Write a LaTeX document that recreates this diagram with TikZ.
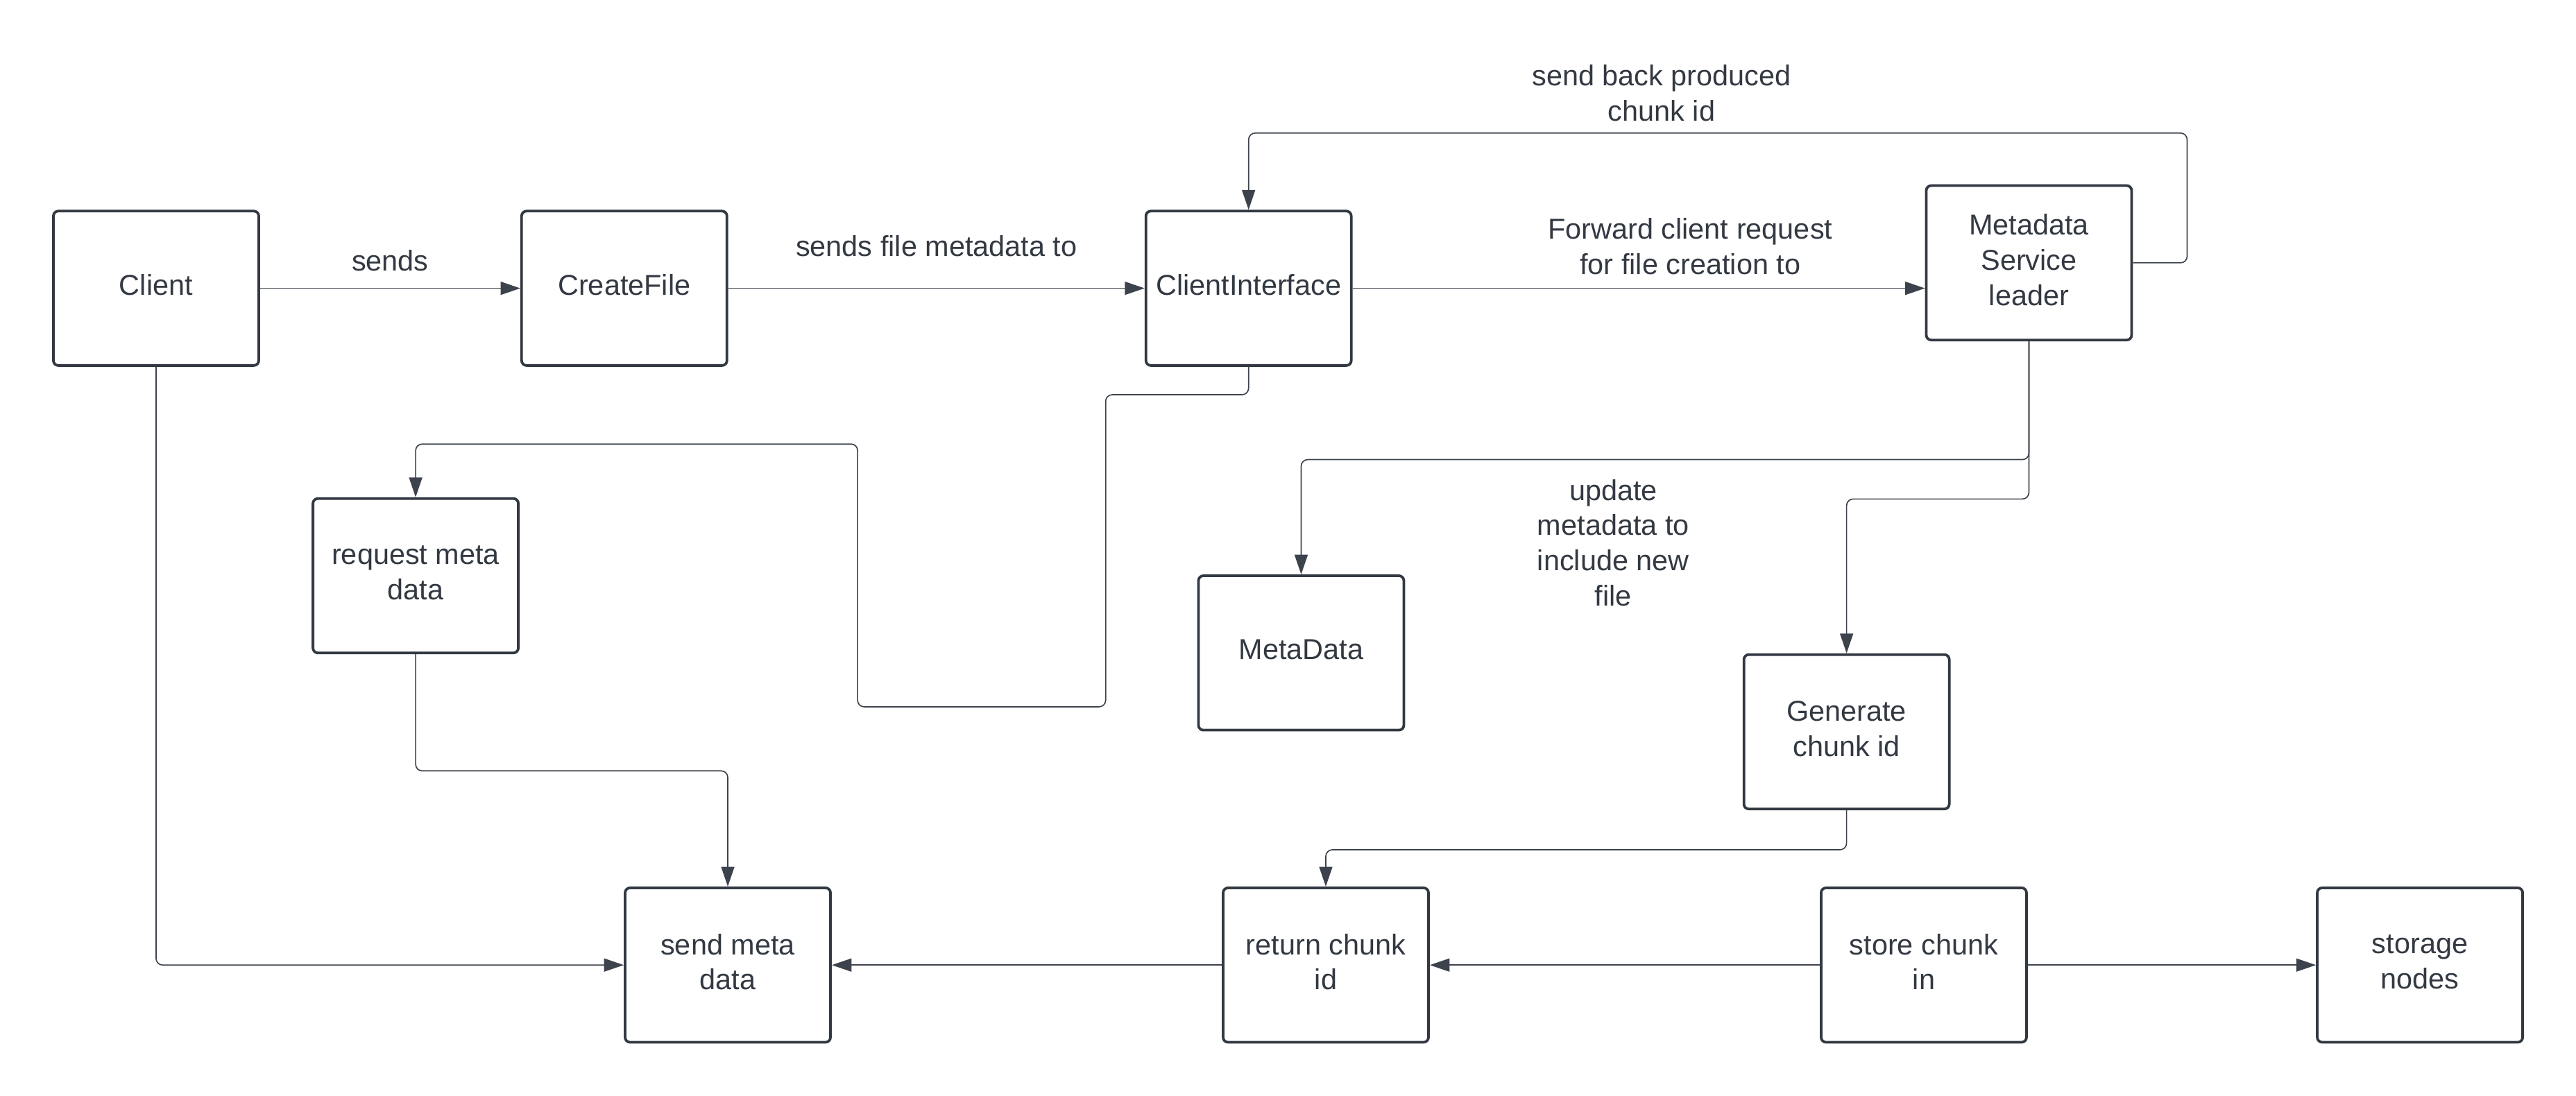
\documentclass[tikz,border=0pt]{standalone}
\usepackage{fontspec}
\setmainfont{Liberation Sans}
\usepackage{xcolor}
\usepackage{tikz}
\usetikzlibrary{positioning,arrows.meta}
\definecolor{ink}{HTML}{333942}
\definecolor{wire}{HTML}{3D434C}

\begin{document}
\begin{tikzpicture}
          [block/.style={rectangle,draw=ink,line width=1.6pt,rounded corners=3pt,fill=white,
                         minimum width=125pt,minimum height=94pt,align=center,text=ink,
                         text depth=4pt},
           lbl/.style={align=center,text=ink,inner sep=0pt},
           link/.style={->,draw=wire,line width=0.7pt,rounded corners=4pt},
           node distance=285pt and 285pt,
           on grid,
           font=\fontsize{17.5}{21.5}\selectfont,
           >={Triangle[length=12pt,width=8pt]}
          ]
          \useasboundingbox (0,0) rectangle (1568pt,-667pt);
          \node[block] (client) at (95pt,-175.5pt) {Client};
          \node[block,right=of client] (createfile) {CreateFile};
          \node[block,right=380pt of createfile] (clientif) {ClientInterface};
          \node[block,above right=15.5pt and 475pt of clientif] (leader) {Metadata\\Service\\leader};
          \node[block,below right=175pt and 158pt of client] (request) {request meta\\data};
          \node[block,below right=222pt and 32pt of clientif] (metadata) {MetaData};
          \node[block,below left=285.5pt and 111pt of leader] (generate) {Generate\\chunk id};
          \node[block,below right=412pt and 348pt of client] (sendmeta) {send meta\\data};
          \node[block,right=364pt of sendmeta] (returnid) {return chunk\\id};
          \node[block,right=364pt of returnid] (store) {store chunk\\in};
          \node[block,right=302pt of store] (storage) {storage\\nodes};
          \node[lbl,below left=170.5pt and 253pt of leader] (updnote) {update\\metadata to\\include new\\file};
          % top row
          \draw[link] (client) -- node[lbl,above=10pt] {sends} (createfile);
          \draw[link] (createfile) -- node[lbl,above=19pt] {sends file metadata to} (clientif);
          \draw[link] (clientif.east) -- node[lbl,pos=0.59,above=8pt] {Forward client request\\for file creation to} (clientif.east -| leader.west);
          \draw[link] (leader.east) -- ++(33pt,0) -- ++(0,79pt)
            -| node[lbl,pos=0.28,above=7pt] {send back produced\\chunk id} (clientif.north);
          % from the leader
          \draw[link] (leader.south) -- ++(0,-72pt) -| (metadata.north);
          \draw[link] (leader.south) -- ++(0,-96pt) -| (generate.north);
          \draw[link] (generate.south) -- ++(0,-24pt) -| (returnid.north);
          % left side
          \draw[link] (clientif.south) -- ++(0,-17pt) -- ++(-87pt,0) -- ++(0,-190pt)
            -- ++(-151pt,0) -- ++(0,160pt) -| (request.north);
          \draw[link] (request.south) -- ++(0,-71pt) -| (sendmeta.north);
          \draw[link] (client.south) |- (sendmeta.west);
          % bottom row
          \draw[link] (returnid) -- (sendmeta);
          \draw[link] (store) -- (returnid);
          \draw[link] (store) -- (storage);
        \end{tikzpicture}
\end{document}
